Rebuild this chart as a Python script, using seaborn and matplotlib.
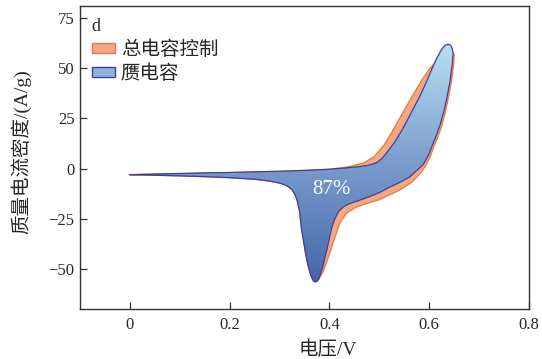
import numpy as np
import pandas as pd
import matplotlib
matplotlib.use("Agg")
import matplotlib.pyplot as plt
import seaborn as sns
from matplotlib.patches import Patch, Polygon
from matplotlib.colors import LinearSegmentedColormap

# ---------------- data ----------------
# capacitive (blue) contribution: anodic branch (voltage increasing)
cap_fwd_v = [0.000, 0.050, 0.100, 0.150, 0.200, 0.250, 0.300, 0.350, 0.400, 0.430,
             0.460, 0.480, 0.495, 0.505, 0.515, 0.530, 0.545, 0.560, 0.580, 0.595,
             0.605, 0.615, 0.625, 0.632, 0.638, 0.643, 0.646, 0.648]
cap_fwd_i = [-3.0, -2.7, -2.4, -2.1, -1.9, -1.6, -1.3, -0.9, -0.3, 0.3,
             1.0, 1.8, 3.0, 5.0, 8.0, 13.0, 19.0, 26.0, 35.5, 43.5,
             49.5, 55.0, 59.5, 61.5, 62.0, 61.5, 60.0, 57.5]
# capacitive: cathodic branch (voltage decreasing)
cap_rev_v = [0.648, 0.646, 0.642, 0.636, 0.630, 0.622, 0.615, 0.607, 0.598, 0.588,
             0.575, 0.560, 0.540, 0.520, 0.500, 0.480, 0.460, 0.440, 0.428, 0.418,
             0.410, 0.404, 0.398, 0.392, 0.386, 0.381, 0.376, 0.372, 0.368, 0.364,
             0.360, 0.356, 0.352, 0.348, 0.344, 0.340, 0.335, 0.330, 0.325, 0.318,
             0.310, 0.300, 0.280, 0.250, 0.200, 0.150, 0.100, 0.050, 0.000]
cap_rev_i = [57.5, 52.0, 44.0, 36.0, 29.0, 22.0, 17.0, 12.0, 6.5, 2.0,
             -1.0, -4.3, -7.0, -9.3, -12.0, -14.0, -15.8, -17.5, -19.0, -21.5,
             -25.5, -30.0, -37.0, -43.5, -49.5, -53.5, -56.0, -56.5, -56.0, -54.0,
             -51.0, -47.0, -42.0, -36.0, -30.0, -21.0, -15.5, -12.5, -10.5, -9.0,
             -8.0, -7.2, -6.2, -5.3, -4.5, -4.0, -3.6, -3.3, -3.0]

# total current (orange): anodic branch
tot_fwd_v = [0.000, 0.100, 0.200, 0.300, 0.400, 0.440, 0.470, 0.490, 0.510, 0.527,
             0.545, 0.565, 0.585, 0.600, 0.607, 0.620, 0.632, 0.640, 0.646, 0.650]
tot_fwd_i = [-3.0, -2.5, -2.0, -1.4, -0.3, 1.0, 3.0, 6.0, 12.0, 19.0,
             27.0, 35.7, 44.0, 49.5, 51.5, 54.5, 56.5, 57.5, 58.0, 57.0]
# total current: cathodic branch
tot_rev_v = [0.650, 0.649, 0.645, 0.639, 0.633, 0.626, 0.619, 0.611, 0.602, 0.592,
             0.580, 0.564, 0.542, 0.521, 0.500, 0.480, 0.455, 0.435, 0.421, 0.410,
             0.398, 0.388, 0.378, 0.372, 0.368, 0.364, 0.360, 0.356, 0.352, 0.348,
             0.344, 0.340, 0.335, 0.330, 0.325, 0.318, 0.310, 0.300, 0.280, 0.250,
             0.200, 0.150, 0.100, 0.050, 0.000]
tot_rev_i = [57.0, 52.0, 44.0, 36.0, 29.0, 22.0, 17.0, 12.0, 6.0, 1.0,
             -3.0, -7.0, -10.5, -13.0, -15.5, -17.0, -19.0, -22.0, -27.0, -35.0,
             -44.0, -51.0, -55.5, -56.5, -56.0, -54.0, -51.0, -47.0, -42.0, -36.0,
             -30.0, -21.0, -15.5, -12.5, -10.5, -9.0, -8.0, -7.2, -6.2, -5.3,
             -4.5, -4.0, -3.6, -3.3, -3.0]

legend_title = "d"
series_labels = ["总电容控制", "赝电容"]
ratio_text = "87%"
xlabel = "电压/V"
ylabel = "质量电流密度/(A/g)"
xticks = [0, 0.2, 0.4, 0.6, 0.8]
xtick_labels = ["0", "0.2", "0.4", "0.6", "0.8"]
yticks = [-50, -25, 0, 25, 50, 75]

# ---------------- style ----------------
sns.set_theme(style="ticks")
FAM = ["Liberation Serif", "Noto Sans CJK SC", "DejaVu Sans"]
plt.rcParams["font.family"] = FAM
plt.rcParams["axes.unicode_minus"] = True

ORANGE_FILL = "#F2A883"
ORANGE_EDGE = "#E8783F"
BLUE_EDGE = "#443F91"
BLUE_TOP = "#B8E0F2"
BLUE_BOT = "#4567AB"

fig = plt.figure(figsize=(5.42, 3.59), dpi=100)
ax = fig.add_axes([0.1476, 0.139, 0.8284, 0.844])

tot = pd.DataFrame({"v": tot_fwd_v + tot_rev_v, "i": tot_fwd_i + tot_rev_i})
cap = pd.DataFrame({"v": cap_fwd_v + cap_rev_v, "i": cap_fwd_i + cap_rev_i})

# total (orange) loop
ax.fill(tot["v"], tot["i"], color=ORANGE_FILL, lw=0, zorder=1)
sns.lineplot(data=tot, x="v", y="i", sort=False, estimator=None,
             color=ORANGE_EDGE, lw=0.9, ax=ax, zorder=2)

# capacitive (blue) loop with vertical gradient
poly = Polygon(np.column_stack([cap["v"], cap["i"]]), closed=True,
               facecolor="none", edgecolor="none")
ax.add_patch(poly)
cmap = LinearSegmentedColormap.from_list("bl", [BLUE_BOT, "#7A9CCD", BLUE_TOP])
grad = np.linspace(0, 1, 256).reshape(-1, 1)
im = ax.imshow(grad, extent=[cap["v"].min(), cap["v"].max(), cap["i"].min(), cap["i"].max()],
               origin="lower", aspect="auto", cmap=cmap, zorder=3)
im.set_clip_path(poly)
sns.lineplot(data=cap, x="v", y="i", sort=False, estimator=None,
             color=BLUE_EDGE, lw=0.9, ax=ax, zorder=4)

ax.text(0.405, -10.5, ratio_text, color="white", fontsize=15, family=FAM,
        ha="center", va="center", zorder=5)

ax.set_xlim(-0.1, 0.8)
ax.set_ylim(-70, 81)
ax.set_xticks(xticks)
ax.set_xticklabels(xtick_labels)
ax.set_yticks(yticks)
ax.tick_params(direction="in", length=5, width=0.9, color="#333333",
               labelsize=12, top=False, right=False)
ax.tick_params(axis="x", pad=6)
ax.tick_params(axis="y", pad=4)
for s in ax.spines.values():
    s.set_visible(True)
    s.set_color("#333333")
    s.set_linewidth(1.0)

ax.set_xlabel(xlabel, fontsize=14, family=FAM)
ax.set_ylabel(ylabel, fontsize=14, family=FAM)
ax.xaxis.set_label_coords(0.552, -0.105)
ax.yaxis.set_label_coords(-0.108, 0.52)

handles = [Patch(facecolor=ORANGE_FILL, edgecolor=ORANGE_EDGE, lw=1.0),
           Patch(facecolor="#8DB3DE", edgecolor=BLUE_EDGE, lw=1.0)]
leg = ax.legend(handles, series_labels, title=legend_title, loc="upper left",
                bbox_to_anchor=(0.0, 1.0), frameon=False, alignment="left",
                prop={"family": FAM, "size": 14}, handlelength=1.2,
                handleheight=0.4, handletextpad=0.3, labelspacing=0.28,
                borderpad=0.3, borderaxespad=0.3)
leg.get_title().set_fontsize(13)
leg.get_title().set_family(FAM)

fig.savefig("out.png", dpi=100)
